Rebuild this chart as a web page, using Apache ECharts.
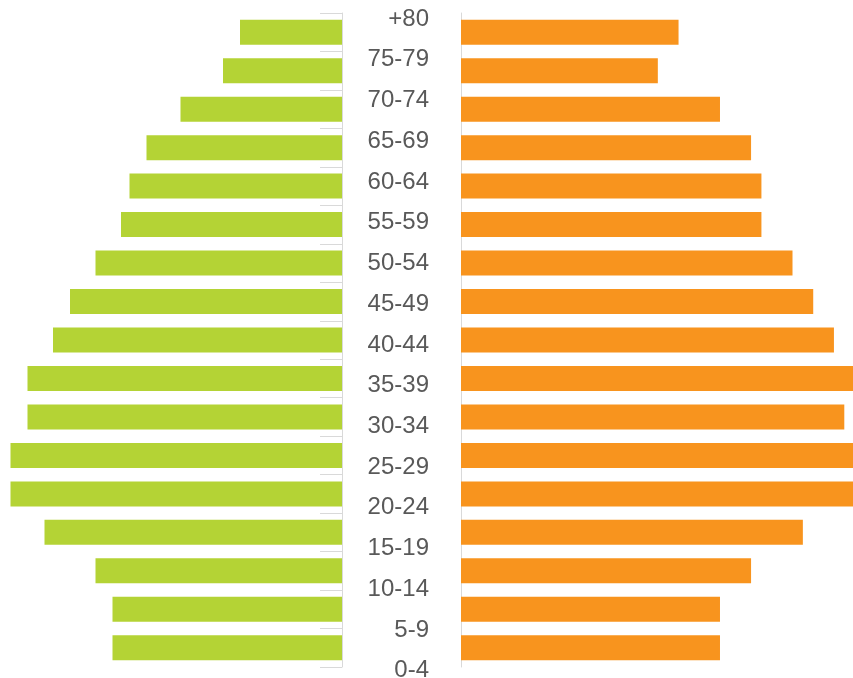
<!DOCTYPE html>
<html>
<head>
<meta charset="utf-8">
<script src="https://cdn.jsdelivr.net/npm/echarts@6/dist/echarts.min.js"></script>
<style>
  html, body { margin: 0; padding: 0; background: #ffffff; }
  #chart { width: 853px; height: 678px; }
</style>
</head>
<body>
<div id="chart"></div>
<script>
// Age groups, youngest first (category axes draw the first entry at the bottom)
const ageGroups = ['0-4', '5-9', '10-14', '15-19', '20-24', '25-29', '30-34', '35-39',
  '40-44', '45-49', '50-54', '55-59', '60-64', '65-69', '70-74', '75-79', '+80'];

// Left side (green) values per age group
const leftValues = [27, 27, 29, 35, 39, 39, 37, 37, 34, 32, 29, 26, 25, 23, 19, 14, 12];

// Right side (orange) values per age group
const rightValues = [25, 25, 28, 33, 40, 40, 37, 39, 36, 34, 32, 29, 29, 28, 25, 19, 21];

const GREEN = '#b4d335';
const ORANGE = '#f8941e';
const AXIS_GRAY = '#d9d9d9';
const LABEL_GRAY = '#595959';

const chart = echarts.init(document.getElementById('chart'), null, { renderer: 'canvas' });

const option = {
  backgroundColor: '#ffffff',
  animation: false,
  grid: [
    { left: 2, top: 13, width: 340, height: 654, outerBoundsMode: 'none', containLabel: false },
    { left: 461, top: 13, right: 0, height: 654, outerBoundsMode: 'none', containLabel: false },
    { left: 437, top: 19, width: 10, height: 651.8, outerBoundsMode: 'none', containLabel: false }
  ],
  xAxis: [
    { gridIndex: 0, type: 'value', min: 0, max: 40, inverse: true, show: false },
    { gridIndex: 1, type: 'value', min: 0, max: 37.84, show: false },
    { gridIndex: 2, type: 'value', min: 0, max: 1, show: false }
  ],
  yAxis: [
    {
      gridIndex: 0, type: 'category', data: ageGroups, position: 'right',
      axisLine: { show: true, lineStyle: { color: AXIS_GRAY, width: 1 } },
      axisTick: { show: true, inside: true, length: 22, lineStyle: { color: AXIS_GRAY, width: 1 } },
      axisLabel: { show: false },
      splitLine: { show: false }
    },
    {
      gridIndex: 1, type: 'category', data: ageGroups, position: 'left', offset: 1,
      axisLine: { show: true, lineStyle: { color: AXIS_GRAY, width: 1 } },
      axisTick: { show: false },
      axisLabel: { show: false },
      splitLine: { show: false }
    },
    {
      gridIndex: 2, type: 'category', data: ageGroups, position: 'left', boundaryGap: false,
      axisLine: { show: false },
      axisTick: { show: false },
      splitLine: { show: false },
      axisLabel: {
        show: true, margin: 8, interval: 0,
        color: LABEL_GRAY, fontSize: 24,
        fontFamily: '"Liberation Sans", Arial, sans-serif'
      }
    }
  ],
  series: [
    {
      type: 'bar', xAxisIndex: 0, yAxisIndex: 0, data: leftValues,
      barWidth: 25, itemStyle: { color: GREEN }, clip: true
    },
    {
      type: 'bar', xAxisIndex: 1, yAxisIndex: 1, data: rightValues,
      barWidth: 25, itemStyle: { color: ORANGE }, clip: true
    },
    {
      type: 'scatter', xAxisIndex: 2, yAxisIndex: 2, data: [], silent: true
    }
  ]
};

chart.setOption(option);
</script>
</body>
</html>
